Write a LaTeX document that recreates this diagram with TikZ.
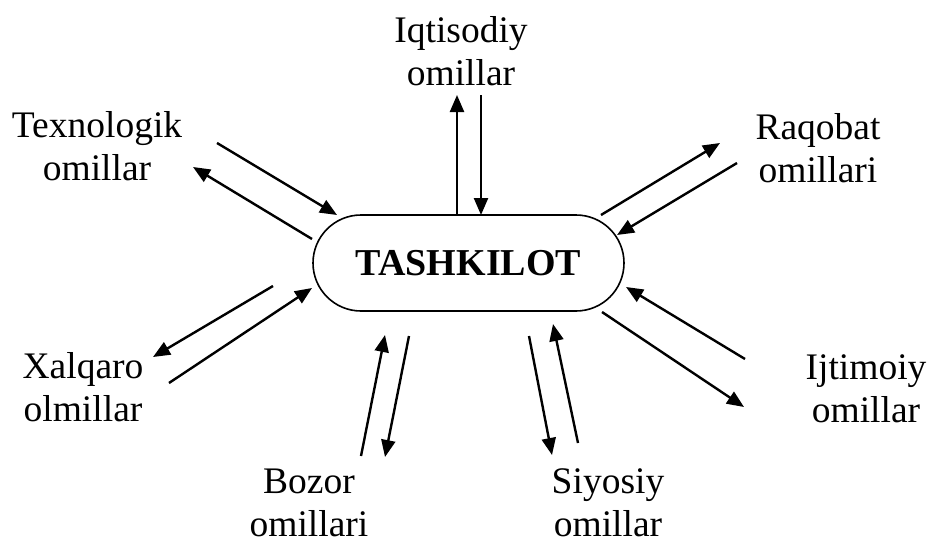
\documentclass[tikz,border=0pt]{standalone}
\usepackage{fontspec}
\setmainfont{Liberation Serif}
\usetikzlibrary{arrows.meta}
\begin{document}
\begin{tikzpicture}[x=1pt,y=-1pt,
  lbl/.style={font=\fontsize{37.5}{42.5}\selectfont, align=center, inner sep=0pt, anchor=base},
  arr/.style={line width=2.4pt, -{Triangle[length=17pt,width=14pt]}},
  org/.style={draw, line width=1.6pt, rounded corners=48pt, minimum width=311pt, minimum height=96pt, inner sep=0pt, font=\fontsize{38}{42.5}\selectfont\bfseries}]
\useasboundingbox (0,0) rectangle (928,543);
\node[org] (org) at (468.5,263) {TASHKILOT};
\node[lbl] (iq) at (461,85) {Iqtisodiy\\omillar};
\node[lbl] (tx) at (97,180) {Texnologik\\omillar};
\node[lbl] (rq) at (818,182) {Raqobat\\omillari};
\node[lbl] (xq) at (83,421) {Xalqaro\\olmillar};
\node[lbl] (ij) at (866,422) {Ijtimoiy\\omillar};
\node[lbl] (bz) at (309,536) {Bozor\\omillari};
\node[lbl] (sy) at (608,536) {Siyosiy\\omillar};
% arrow end points
\coordinate (iqA) at (457,215); \coordinate (iqB) at (457,95);
\coordinate (iqC) at (481,95);  \coordinate (iqD) at (481,215);
\coordinate (txA) at (217,143); \coordinate (txB) at (337,215);
\coordinate (txC) at (312,239); \coordinate (txD) at (193,167);
\coordinate (rqA) at (601,215); \coordinate (rqB) at (720,143);
\coordinate (rqC) at (737,163); \coordinate (rqD) at (617,235);
\coordinate (xqA) at (273,286); \coordinate (xqB) at (153,357);
\coordinate (xqC) at (169,383); \coordinate (xqD) at (312,288);
\coordinate (ijA) at (745,359); \coordinate (ijB) at (626,287);
\coordinate (ijC) at (602,312); \coordinate (ijD) at (744,407);
\coordinate (bzA) at (361,456); \coordinate (bzB) at (385,335);
\coordinate (bzC) at (409,336); \coordinate (bzD) at (385,457);
\coordinate (syA) at (529,336); \coordinate (syB) at (552,455);
\coordinate (syC) at (578,443); \coordinate (syD) at (553,324);
\foreach \n in {iq,tx,rq,xq,ij,bz,sy}{
  \draw[arr] (\n A) -- (\n B);
  \draw[arr] (\n C) -- (\n D);
}
\end{tikzpicture}
\end{document}
